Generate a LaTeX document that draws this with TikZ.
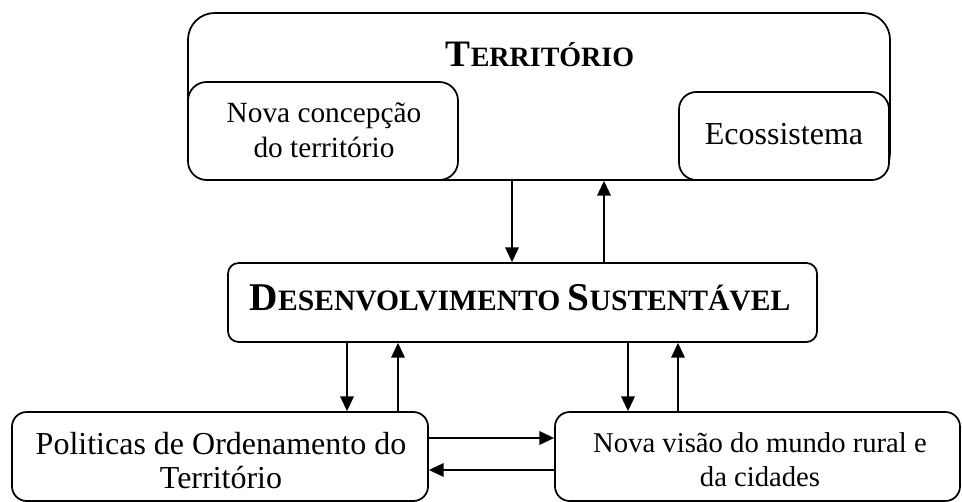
\documentclass[tikz,border=0pt]{standalone}
\usepackage{fontspec}
\setmainfont{Liberation Serif}
\usetikzlibrary{arrows.meta}
\tikzset{
	caixa/.style={draw, line width=1.3pt, rounded corners=#1, inner sep=0pt},
	caixa/.default=11pt,
	texto/.style={align=center, inner sep=0pt},
	seta/.style={-{Triangle[length=11pt,width=10pt]}, line width=1.5pt},
}
% versaletes feitos a mao: letra grande + resto menor
\newcommand{\versal}[2]{{\fontsize{29.5}{30}\selectfont #1}{\fontsize{22.2}{30}\selectfont #2}}

\begin{document}
\begin{tikzpicture}[x=0.75pt, y=-0.75pt]
	\useasboundingbox (0,0) rectangle (962,502);
	%caixas
	\node[caixa=20pt, minimum width=526.5pt, minimum height=125.25pt] (terr) at (539,96.5) {};
	\node[caixa=14pt, fill=white, minimum width=202.5pt, minimum height=73.5pt] (nova) at (323,131) {};
	\node[caixa=13pt, fill=white, minimum width=157.5pt, minimum height=66pt] (eco) at (784,136) {};
	\node[caixa=8pt, minimum width=441.75pt, minimum height=59.25pt] (desenv) at (522.5,302.5) {};
	\node[caixa, minimum width=312pt, minimum height=66.75pt] (poli) at (220,456.5) {};
	\node[caixa, minimum width=303.75pt, minimum height=66.75pt] (visao) at (757.5,456.5) {};
	%textos
	\node[texto, anchor=base, font=\fontsize{21}{30}\selectfont\bfseries] (terrtxt) at (540,67) {\fontsize{21}{30}\selectfont{\fontsize{28}{30}\selectfont T}ERRITÓRIO};
	\node[texto, font=\fontsize{22}{26.5}\selectfont] (novatxt) at (324,130) {Nova concepção\\do território};
	\node[texto, anchor=base, font=\fontsize{24}{26}\selectfont] (ecotxt) at (784,145) {Ecossistema};
	\node[texto, anchor=base, font=\fontsize{22.2}{30}\selectfont\bfseries] (desenvtxt) at (520,310) {\versal{D}{ESENVOLVIMENTO} \versal{S}{USTENTÁVEL}};
	\node[texto, font=\fontsize{24}{25}\selectfont] (politxt) at (221,460.5) {Politicas de Ordenamento do\\Território};
	\node[texto, font=\fontsize{21.5}{25.5}\selectfont] (visaotxt) at (760,460) {Nova visão do mundo rural e\\da cidades};
	%setas verticais (desce / sobe)
	\foreach \a/\b/\c/\d in {terr/desenv/512/604, desenv/poli/347/398, desenv/visao/628/678}
	{
		\coordinate (k1) at (\c,0);
		\coordinate (k2) at (\d,0);
		\draw[seta] (\a.south -| k1) -- (\b.north -| k1);
		\draw[seta] (\b.north -| k2) -- (\a.south -| k2);
	}
	%setas horizontais
	\coordinate (ida) at (0,438);
	\coordinate (volta) at (0,470);
	\draw[seta] (poli.east |- ida) -- (visao.west |- ida);
	\draw[seta] (visao.west |- volta) -- (poli.east |- volta);
\end{tikzpicture}
\end{document}
